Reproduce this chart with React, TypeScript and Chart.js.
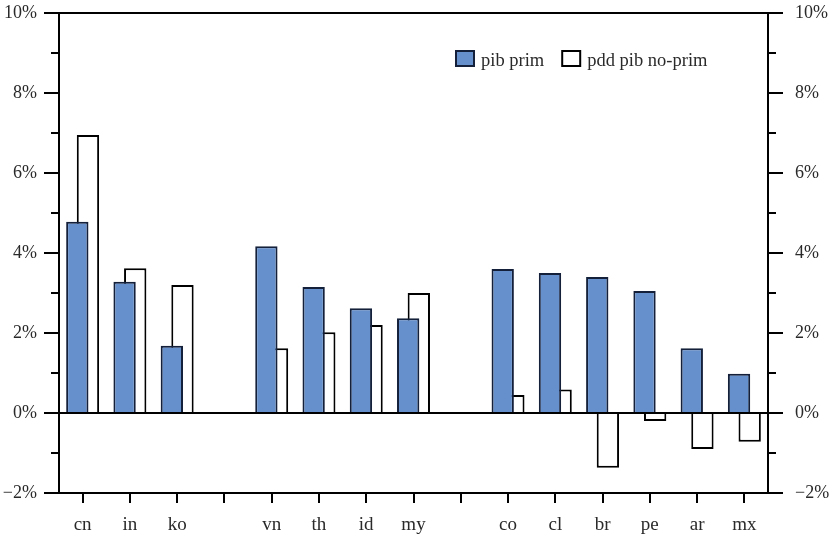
import React, { useEffect, useRef } from "react";
import { Chart, registerables } from "chart.js";

Chart.register(...registerables);

const categories = ["cn", "in", "ko", "", "vn", "th", "id", "my", "", "co", "cl", "br", "pe", "ar", "mx"];
const pibPrim = [4.78, 3.28, 1.68, null, 4.17, 3.15, 2.62, 2.37, null, 3.6, 3.5, 3.4, 3.05, 1.62, 0.98];
const pddPibNoPrim = [6.95, 3.62, 3.2, null, 1.62, 2.02, 2.2, 3.0, null, 0.45, 0.59, -1.37, -0.2, -0.9, -0.72];
const seriesLabels = ["pib prim", "pdd pib no-prim"];
const yMin = -2;
const yMax = 10;

const FONT = "'Liberation Serif', 'Times New Roman', serif";
const TEXT = "#2a2a2a";
const BLUE = "#6690cc";
const NAVY = "#14203a";

const fmt = (v: number) => (v < 0 ? "\u2212" + Math.abs(v) : String(v)) + "%";

const axisTicks = {
  id: "axisTicks",
  afterDraw(chart: any) {
    const ctx = chart.ctx;
    ctx.save();
    ctx.strokeStyle = "#000";
    ctx.lineWidth = 2;
    ["y", "y2"].forEach((id) => {
      const s = chart.scales[id];
      s.ticks.forEach((t: any) => {
        const len = Math.abs(t.value % 2) === 1 ? 8 : 15;
        const py = Math.round(s.getPixelForValue(t.value));
        ctx.beginPath();
        if (id === "y") {
          ctx.moveTo(s.right - len, py);
          ctx.lineTo(s.right, py);
        } else {
          ctx.moveTo(s.left, py);
          ctx.lineTo(s.left + len, py);
        }
        ctx.stroke();
      });
    });
    ctx.restore();
  },
};

const legendPlugin = {
  id: "customLegend",
  afterDraw(chart: any) {
    const ctx = chart.ctx;
    const area = chart.chartArea;
    ctx.save();
    ctx.font = `18.5px ${FONT}`;
    ctx.textBaseline = "alphabetic";
    let x = area.left + 396;
    const boxTop = area.top + 37;
    chart.data.datasets.forEach((ds: any) => {
      ctx.fillStyle = ds.backgroundColor;
      ctx.fillRect(x + 1, boxTop + 1, 18, 15);
      ctx.strokeStyle = ds.borderColor;
      ctx.lineWidth = 2;
      ctx.strokeRect(x + 1, boxTop + 1, 18, 15);
      ctx.fillStyle = TEXT;
      ctx.fillText(ds.label, x + 26, boxTop + 16);
      x += 26 + ctx.measureText(ds.label).width + 17;
    });
    ctx.restore();
  },
};

export default function App() {
  const ref = useRef<HTMLCanvasElement | null>(null);
  useEffect(() => {
    document.body.style.margin = "0";
    if (!ref.current) return;
    const chart = new Chart(ref.current, {
      type: "bar",
      data: {
        labels: categories,
        datasets: [
          {
            label: seriesLabels[0],
            data: pibPrim,
            backgroundColor: BLUE,
            borderColor: NAVY,
            borderWidth: 2,
            borderSkipped: "start",
            yAxisID: "y",
          },
          {
            label: seriesLabels[1],
            data: pddPibNoPrim,
            backgroundColor: "#ffffff",
            borderColor: "#000000",
            borderWidth: 2,
            borderSkipped: "start",
            yAxisID: "y",
          },
        ],
      },
      options: {
        animation: false,
        responsive: true,
        maintainAspectRatio: false,
        layout: { padding: { top: 13, left: 0, right: 0, bottom: 0 } },
        datasets: { bar: { categoryPercentage: 0.45, barPercentage: 2.1 } },
        plugins: { legend: { display: false }, tooltip: { enabled: false } },
        scales: {
          x: {
            offset: true,
            grid: {
              display: true,
              offset: false,
              drawOnChartArea: false,
              drawTicks: true,
              tickLength: 10,
              tickColor: "#000",
              tickWidth: 2,
              color: "#000",
              lineWidth: 2,
            },
            border: { display: true, color: "#000", width: 2 },
            ticks: { font: { family: FONT, size: 19 }, color: TEXT, padding: 11, autoSkip: false, maxRotation: 0 },
            afterFit(s: any) {
              s.height = 46;
            },
          },
          y: {
            position: "left",
            min: yMin,
            max: yMax,
            ticks: {
              stepSize: 1,
              autoSkip: false,
              padding: 0,
              font: { family: FONT, size: 18 },
              color: TEXT,
              callback: (v: any) => (Number(v) % 2 === 0 ? fmt(Number(v)) : ""),
            },
            grid: {
              drawOnChartArea: true,
              drawTicks: true,
              tickLength: 22,
              tickWidth: 2,
              lineWidth: 2,
              color: (c: any) => (c.tick && (c.tick.value === 0 || c.tick.value === yMax) ? "#000" : "rgba(0,0,0,0)"),
              tickColor: "rgba(0,0,0,0)",
            },
            border: { display: true, color: "#000", width: 2 },
            afterFit(s: any) {
              s.width = 59;
            },
          },
          y2: {
            position: "right",
            min: yMin,
            max: yMax,
            ticks: {
              stepSize: 1,
              autoSkip: false,
              padding: 0,
              font: { family: FONT, size: 18 },
              color: TEXT,
              callback: (v: any) => (Number(v) % 2 === 0 ? fmt(Number(v)) : ""),
            },
            grid: {
              drawOnChartArea: false,
              drawTicks: true,
              tickLength: 27,
              tickWidth: 2,
              lineWidth: 2,
              color: "rgba(0,0,0,0)",
              tickColor: "rgba(0,0,0,0)",
            },
            border: { display: true, color: "#000", width: 2 },
            afterFit(s: any) {
              s.width = 63;
            },
          },
        },
      },
      plugins: [axisTicks, legendPlugin],
    });
    return () => chart.destroy();
  }, []);
  return (
    <div style={{ position: "relative", width: 831, height: 539 }}>
      <canvas ref={ref} />
    </div>
  );
}
